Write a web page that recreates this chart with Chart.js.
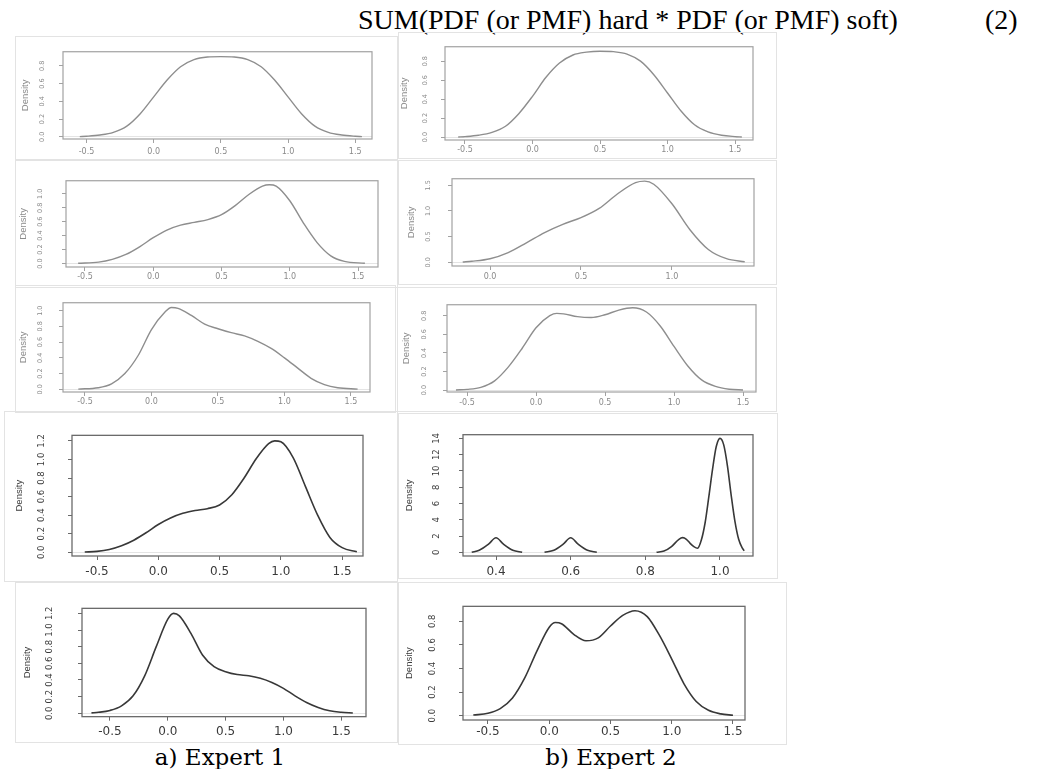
<!DOCTYPE html>
<html><head><meta charset="utf-8">
<script src="https://cdn.jsdelivr.net/npm/chart.js@4.4.1/dist/chart.umd.min.js"></script>
<style>
html,body{margin:0;padding:0;background:#fff;}
body{width:1061px;height:769px;position:relative;overflow:hidden;}
.frame{position:absolute;box-sizing:border-box;border:1px solid #e3e3e3;}
canvas{position:absolute;}
.txt{position:absolute;white-space:nowrap;color:#000;}
#hdr{left:358px;top:6px;font:28px 'Liberation Serif','Times New Roman',serif;line-height:28px;}
#eq{left:985px;top:6px;font:28px 'Liberation Serif','Times New Roman',serif;line-height:28px;}
.cap{top:746px;width:220px;text-align:center;font:23px 'DejaVu Serif',serif;line-height:23px;}
</style></head>
<body>
<div class="txt" id="hdr">SUM(PDF (or PMF) hard * PDF (or PMF) soft)</div>
<div class="txt" id="eq">(2)</div>
<div class="txt cap" style="left:110px">a) Expert 1</div>
<div class="txt cap" style="left:501px">b) Expert 2</div>
<script>
// ---- tick values ----
const xTicksA = [-0.5, 0, 0.5, 1.0, 1.5];
const xTicksB = [0, 0.5, 1.0];
const xTicksC = [0.4, 0.6, 0.8, 1.0];
const yTicks08 = [0, 0.2, 0.4, 0.6, 0.8];
const yTicks10 = [0, 0.2, 0.4, 0.6, 0.8, 1.0];
const yTicks15 = [0, 0.5, 1.0, 1.5];
const yTicks12 = [0, 0.2, 0.4, 0.6, 0.8, 1.0, 1.2];
const yTicks14 = [0, 2, 4, 6, 8, 10, 12, 14];

// ---- Expert 1 (left column) densities ----
const xE1r1 = [-0.55,-0.5,-0.4,-0.3,-0.2,-0.1,0,0.1,0.2,0.3,0.4,0.5,0.6,0.7,0.8,0.9,1.0,1.1,1.2,1.3,1.4,1.5,1.55];
const yE1r1 = [0.002,0.006,0.02,0.05,0.12,0.26,0.45,0.64,0.79,0.87,0.9,0.905,0.9,0.87,0.79,0.64,0.45,0.26,0.12,0.05,0.02,0.006,0.002];
const xE1r2 = [-0.55,-0.4,-0.3,-0.2,-0.1,0,0.1,0.2,0.3,0.4,0.5,0.6,0.7,0.8,0.85,0.9,1.0,1.1,1.2,1.3,1.4,1.55];
const yE1r2 = [0.003,0.02,0.06,0.13,0.24,0.37,0.48,0.55,0.59,0.63,0.70,0.83,0.99,1.11,1.13,1.11,0.9,0.58,0.3,0.11,0.03,0.003];
const xE1r3 = [-0.55,-0.4,-0.3,-0.2,-0.1,0,0.1,0.15,0.2,0.3,0.4,0.5,0.6,0.7,0.8,0.9,1.0,1.1,1.2,1.3,1.4,1.55];
const yE1r3 = [0.003,0.02,0.07,0.2,0.43,0.76,0.98,1.04,1.03,0.94,0.83,0.77,0.72,0.68,0.61,0.52,0.40,0.27,0.14,0.06,0.02,0.002];
const xE1r4 = [-0.6,-0.5,-0.4,-0.3,-0.2,-0.1,0,0.1,0.2,0.3,0.4,0.5,0.6,0.7,0.8,0.9,0.95,1.0,1.1,1.2,1.3,1.4,1.5,1.62];
const yE1r4 = [0.003,0.01,0.03,0.07,0.13,0.21,0.30,0.37,0.42,0.45,0.47,0.51,0.62,0.80,1.01,1.17,1.20,1.19,1.02,0.71,0.40,0.16,0.05,0.005];
const xE1r5 = [-0.66,-0.6,-0.5,-0.4,-0.3,-0.2,-0.1,0,0.05,0.1,0.2,0.3,0.4,0.5,0.6,0.7,0.8,0.9,1.0,1.1,1.2,1.3,1.4,1.5,1.6];
const yE1r5 = [0.005,0.012,0.035,0.09,0.21,0.45,0.80,1.13,1.20,1.17,0.96,0.70,0.56,0.50,0.465,0.45,0.42,0.37,0.30,0.21,0.13,0.07,0.03,0.012,0.004];

// ---- Expert 2 (right column) densities ----
const xE2r1 = [-0.55,-0.5,-0.4,-0.3,-0.2,-0.1,0,0.1,0.2,0.3,0.4,0.5,0.6,0.7,0.8,0.9,1.0,1.1,1.2,1.3,1.4,1.5,1.55];
const yE2r1 = [0.002,0.006,0.02,0.05,0.115,0.25,0.43,0.63,0.78,0.865,0.895,0.905,0.9,0.875,0.8,0.655,0.465,0.275,0.13,0.055,0.02,0.006,0.002];
const xE2r2 = [-0.15,-0.1,0,0.1,0.2,0.3,0.4,0.5,0.6,0.7,0.8,0.85,0.9,1.0,1.1,1.2,1.3,1.4];
const yE2r2 = [0.005,0.02,0.07,0.19,0.38,0.58,0.74,0.87,1.05,1.33,1.55,1.58,1.52,1.14,0.63,0.25,0.07,0.01];
const xE2r3 = [-0.58,-0.5,-0.4,-0.3,-0.2,-0.1,0,0.1,0.15,0.2,0.3,0.4,0.5,0.6,0.7,0.8,0.9,1.0,1.1,1.2,1.3,1.4,1.5];
const yE2r3 = [0.002,0.008,0.03,0.1,0.25,0.45,0.67,0.8,0.825,0.82,0.79,0.78,0.81,0.86,0.885,0.84,0.69,0.47,0.26,0.11,0.04,0.01,0.002];
const xE2r4 = [0.335,0.355,0.38,0.40,0.42,0.445,0.47, 0.50, 0.53,0.555,0.58,0.60,0.62,0.645,0.67, 0.75,
               0.83,0.85,0.87,0.89,0.90,0.91,0.92,0.93,0.94,0.95,0.96,0.97,0.98,0.99,1.00,1.01,1.02,1.03,1.04,1.05,1.06,1.065];
const yE2r4 = [0,0.25,1.0,1.78,1.0,0.25,0, null, 0,0.25,1.0,1.78,1.0,0.25,0, null,
               0,0.15,0.7,1.6,1.8,1.6,1.1,0.7,0.5,1.5,3.6,6.8,10.2,13.0,14.0,13.2,10.6,7.0,3.8,1.6,0.5,0.2];
const xE2r5 = [-0.62,-0.5,-0.4,-0.3,-0.2,-0.1,0,0.05,0.1,0.2,0.3,0.4,0.5,0.6,0.7,0.8,0.9,1.0,1.1,1.2,1.3,1.4,1.5];
const yE2r5 = [0.005,0.02,0.06,0.15,0.32,0.55,0.75,0.79,0.78,0.69,0.635,0.66,0.76,0.85,0.89,0.84,0.68,0.48,0.27,0.12,0.045,0.015,0.003];

// ---- panel layout (positions & styles) ----
const panels = [
 {frame:[15,36,383,124], box:[63,43,372,139], xlim:[-0.675,1.625], ylim:[-0.025,0.96], xs:xE1r1, ys:yE1r1, xt:xTicksA, yt:yTicks08, big:false, dens:10, yOff:21, xOff:13},
 {frame:[398,32,379,127], box:[445,43,753,140], xlim:[-0.648,1.633], ylim:[-0.03,0.952], xs:xE2r1, ys:yE2r1, xt:xTicksA, yt:yTicks08, big:false, dens:6, yOff:20, xOff:10},
 {frame:[15,160,383,128], box:[66,168,378,267], xlim:[-0.639,1.646], ylim:[-0.05,1.1875], xs:xE1r2, ys:yE1r2, xt:xTicksA, yt:yTicks10, big:false, dens:8.5, yOff:26, xOff:10},
 {frame:[398,160,379,125], box:[452,172,754,266], xlim:[-0.209,1.451], ylim:[-0.072,1.627], xs:xE2r2, ys:yE2r2, xt:xTicksB, yt:yTicks15, big:false, dens:13, yOff:24, xOff:11},
 {frame:[15,285,381,128], box:[63,291,370,392], xlim:[-0.665,1.643], ylim:[-0.034,1.101], xs:xE1r3, ys:yE1r3, xt:xTicksA, yt:yTicks10, big:false, dens:8, yOff:23, xOff:10},
 {frame:[397,287,380,125], box:[447,297,756,392], xlim:[-0.645,1.594], ylim:[-0.02,0.918], xs:xE2r3, ys:yE2r3, xt:xTicksA, yt:yTicks08, big:false, dens:9.5, yOff:23, xOff:11},
 {frame:[4,411,394,171], box:[72,425,363,556], xlim:[-0.704,1.67], ylim:[-0.04,1.26], xs:xE1r4, ys:yE1r4, xt:xTicksA, yt:yTicks12, big:true, dens:15, yOff:30, xOff:16},
 {frame:[398,413,380,166], box:[463,425,753,556], xlim:[0.3116,1.0884], ylim:[-0.455,14.455], xs:xE2r4, ys:yE2r4, xt:xTicksC, yt:yTicks14, big:true, dens:11, yOff:26, xOff:16, intY:true},
 {frame:[15,582,383,161], box:[82,592,366,721], xlim:[-0.742,1.714], ylim:[-0.04,1.26], xs:xE1r5, ys:yE1r5, xt:xTicksA, yt:yTicks12, big:true, dens:12.5, yOff:32, xOff:15},
 {frame:[398,582,389,163], box:[463,591,745,720], xlim:[-0.704,1.598], ylim:[-0.037,0.927], xs:xE2r5, ys:yE2r5, xt:xTicksA, yt:yTicks08, big:true, dens:11, yOff:30, xOff:12}
];

const boxPlugin = {
  id: 'rbox',
  afterDatasetsDraw(chart, args, opts) {
    const {ctx, chartArea: a} = chart;
    ctx.save();
    ctx.strokeStyle = opts.color;
    ctx.lineWidth = opts.width;
    ctx.strokeRect(a.left, a.top, a.right - a.left, a.bottom - a.top);
    ctx.restore();
  }
};

const mctx = document.createElement('canvas').getContext('2d');
function textW(str, font) { mctx.font = font; return mctx.measureText(str).width; }

panels.forEach(p => {
  const [fx, fy, fw, fh] = p.frame;
  const fr = document.createElement('div');
  fr.className = 'frame';
  Object.assign(fr.style, {left: fx + 'px', top: fy + 'px', width: fw + 'px', height: fh + 'px'});
  document.body.appendChild(fr);
  const cv = document.createElement('canvas');
  cv.width = fw; cv.height = fh;
  Object.assign(cv.style, {left: fx + 'px', top: fy + 'px', width: fw + 'px', height: fh + 'px'});
  document.body.appendChild(cv);

  const cl = p.box[0] - fx, ct = p.box[1] - fy, cr = p.box[2] - fx, cb = p.box[3] - fy;
  const big = p.big;
  const lineCol = big ? '#383838' : '#8e8e8e';
  const axCol = big ? '#6a6a6a' : '#a2a2a2';
  const lblCol = big ? '#3a3a3a' : '#8a8a8a';
  const xFont = {family: 'DejaVu Sans', size: big ? 12 : 8};
  const yFont = {family: 'DejaVu Sans', size: big ? 8.5 : 6.5};
  const dFont = {family: 'Liberation Sans', size: 9.5};
  const fmtY = v => p.intY ? String(v) : v.toFixed(1);
  const fmtX = v => v.toFixed(1);
  const tl = 4;
  const widest = Math.max(...p.yt.map(v => textW(fmtY(v), yFont.size + 'px "DejaVu Sans"')));
  const yPad = Math.max(0, p.yOff - tl - widest / 2);
  const xPad = Math.max(0, p.xOff - tl - xFont.size * 1.2 / 2);
  const dPad = Math.max(0, p.dens - dFont.size * 1.2 / 2);

  new Chart(cv, {
    type: 'line',
    data: {
      datasets: [{
        data: p.xs.map((x, i) => ({x: x, y: p.ys[i]})),
        borderColor: lineCol,
        borderWidth: big ? 1.6 : 1.4,
        pointRadius: 0,
        fill: false,
        spanGaps: false,
        cubicInterpolationMode: 'monotone'
      }]
    },
    options: {
      responsive: false,
      animation: false,
      devicePixelRatio: 1,
      events: [],
      layout: {padding: {left: 0, top: ct, right: fw - cr, bottom: 0}},
      plugins: {legend: {display: false}, tooltip: {enabled: false}, rbox: {color: axCol, width: big ? 1.3 : 1.2}},
      scales: {
        x: {
          type: 'linear', min: p.xlim[0], max: p.xlim[1],
          afterBuildTicks: s => { s.ticks = p.xt.map(v => ({value: v})); },
          afterFit: s => { s.height = fh - cb; },
          border: {display: false},
          grid: {drawOnChartArea: false, drawTicks: true, tickLength: tl, tickColor: axCol, tickWidth: 1},
          ticks: {font: xFont, color: lblCol, padding: xPad, maxRotation: 0, minRotation: 0, autoSkip: false, callback: v => fmtX(v)}
        },
        y: {
          type: 'linear', min: p.ylim[0], max: p.ylim[1],
          afterBuildTicks: s => { s.ticks = p.yt.map(v => ({value: v})); },
          afterFit: s => { s.width = cl; },
          border: {display: false},
          grid: {drawOnChartArea: true, drawTicks: true, tickLength: tl, tickColor: axCol, tickWidth: 1,
                 color: c => (c.tick && c.tick.value === 0) ? '#e4e4e4' : 'rgba(0,0,0,0)'},
          ticks: {font: yFont, color: lblCol, padding: yPad, minRotation: 90, maxRotation: 90, crossAlign: 'center', autoSkip: false, callback: v => fmtY(v)},
          title: {display: true, text: 'Density', font: dFont, color: lblCol, padding: {top: dPad, bottom: 0}}
        }
      }
    },
    plugins: [boxPlugin]
  });
});
</script>
</body></html>
